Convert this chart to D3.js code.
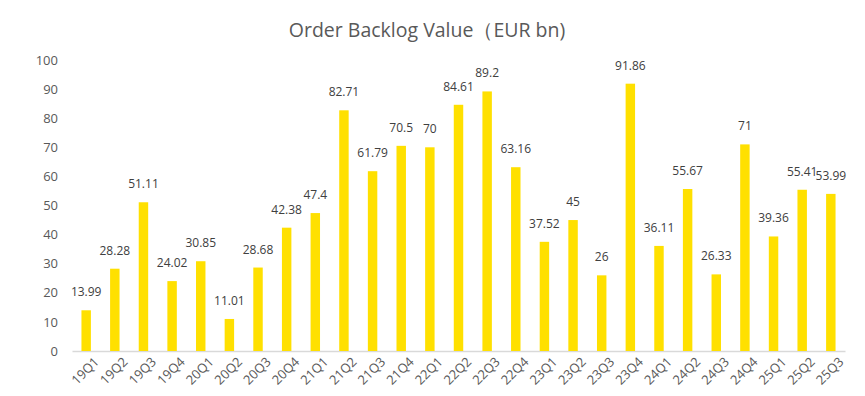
<!DOCTYPE html>
<html>
<head>
<meta charset="utf-8">
<script src="https://cdn.jsdelivr.net/npm/d3@7"></script>
<style>
    body { margin: 0; background: #fff; }
    svg { display: block; font-family: "Open Sans", "Noto Sans", sans-serif; }
</style>
</head>
<body>
<svg id="chart" width="865" height="396"></svg>
<script>
// 季度
const categories = ["19Q1", "19Q2", "19Q3", "19Q4", "20Q1", "20Q2", "20Q3", "20Q4",
    "21Q1", "21Q2", "21Q3", "21Q4", "22Q1", "22Q2", "22Q3", "22Q4",
    "23Q1", "23Q2", "23Q3", "23Q4", "24Q1", "24Q2", "24Q3", "24Q4",
    "25Q1", "25Q2", "25Q3"];

// 订单积压 (EUR bn)
const backlogValues = [13.99, 28.28, 51.11, 24.02, 30.85, 11.01, 28.68, 42.38,
    47.4, 82.71, 61.79, 70.5, 70, 84.61, 89.2, 63.16,
    37.52, 45, 26, 91.86, 36.11, 55.67, 26.33, 71,
    39.36, 55.41, 53.99];

const yTicks = [0, 10, 20, 30, 40, 50, 60, 70, 80, 90, 100];

const titleText = "Order Backlog Value（EUR bn)";

drawChart();

function drawChart() {
    const svg = d3.select("#chart");
    const margin = { top: 60, right: 20, bottom: 45, left: 72 };
    const height = 351 - margin.top;

    svg.append("text")
        .attr("x", 427)
        .attr("y", 37)
        .attr("text-anchor", "middle")
        .attr("font-size", "19.5px")
        .attr("fill", "#595959")
        .text(titleText);

    const x = d3.scaleBand()
        .domain(categories)
        .range([0, 773])
        .paddingInner(0.67)
        .paddingOuter(0.33);

    const y = d3.scaleLinear()
        .domain([0, 100])
        .range([height, 0]);

    const chart = svg.append("g")
        .attr("transform", `translate(${margin.left},${margin.top})`);

    // y 轴
    const yAxis = chart.append("g")
        .call(d3.axisLeft(y).tickValues(yTicks).tickSize(0).tickPadding(14));
    yAxis.select(".domain").remove();
    yAxis.selectAll("text")
        .attr("font-size", "13px")
        .attr("font-family", "Open Sans, Noto Sans, sans-serif")
        .attr("fill", "#595959");

    // x 轴
    const xAxis = chart.append("g")
        .attr("transform", `translate(0,${height})`)
        .call(d3.axisBottom(x).tickSize(0).tickPadding(10));
    xAxis.select(".domain")
        .attr("stroke", "#d9d9d9")
        .attr("stroke-width", 1.5);
    xAxis.selectAll("text")
        .attr("font-size", "13px")
        .attr("font-family", "Open Sans, Noto Sans, sans-serif")
        .attr("fill", "#595959")
        .attr("transform", "translate(2,0) rotate(-45)")
        .attr("dy", "0.5em")
        .style("text-anchor", "end");

    // 柱子
    chart.selectAll(".bar")
        .data(backlogValues)
        .enter()
        .append("rect")
        .attr("class", "bar")
        .attr("x", (d, i) => x(categories[i]))
        .attr("y", d => y(d))
        .attr("width", x.bandwidth())
        .attr("height", d => height - y(d))
        .attr("fill", "#FFE000");

    // 数据标签
    chart.selectAll(".label")
        .data(backlogValues)
        .enter()
        .append("text")
        .attr("class", "label")
        .attr("x", (d, i) => x(categories[i]) + x.bandwidth() / 2)
        .attr("y", d => y(d) - 14)
        .attr("text-anchor", "middle")
        .attr("font-size", "12px")
        .attr("fill", "#404040")
        .text(d => d);
}
</script>
</body>
</html>
